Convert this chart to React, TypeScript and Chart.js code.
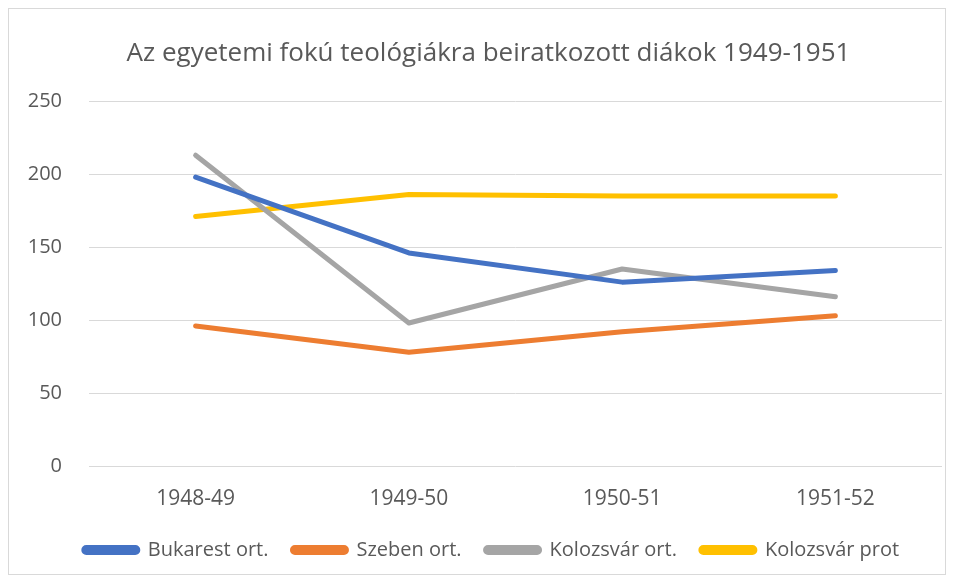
import React, { useEffect, useRef } from "react";
import { Chart, registerables } from "chart.js";

Chart.register(...registerables);

const categories = ["1948-49", "1949-50", "1950-51", "1951-52"];
const bukarest = [198, 146, 126, 134];
const szeben = [96, 78, 92, 103];
const kolozsvarOrt = [213, 98, 135, 116];
const kolozsvarProt = [171, 186, 185, 185];
const seriesNames = ["Bukarest ort.", "Szeben ort.", "Kolozsvár ort.", "Kolozsvár prot"];
const seriesColors = ["#4472C4", "#ED7D31", "#A5A5A5", "#FFC000"];
const titleText = "Az egyetemi fokú teológiákra beiratkozott diákok 1949-1951";

const FONT = "'Open Sans', 'Noto Sans', sans-serif";
const TEXT = "#595959";

// Shift title and legend slightly right, as in the reference layout
const shiftPlugin = {
  id: "shiftBoxes",
  afterLayout(chart: any) {
    if (chart.titleBlock) {
      chart.titleBlock.left += 13;
      chart.titleBlock.right += 13;
    }
    if (chart.legend) {
      chart.legend.left += 16;
      chart.legend.right += 16;
    }
  },
};

export default function App() {
  const ref = useRef<HTMLCanvasElement | null>(null);
  useEffect(() => {
    if (!ref.current) return;
    const values = [bukarest, szeben, kolozsvarOrt, kolozsvarProt];
    const chart = new Chart(ref.current, {
      type: "line",
      data: {
        labels: categories,
        datasets: values.map((v, i) => ({
          label: seriesNames[i],
          data: v,
          borderColor: seriesColors[i],
          backgroundColor: seriesColors[i],
          borderWidth: 5,
          borderCapStyle: "round" as const,
          borderJoinStyle: "round" as const,
          pointRadius: 0,
          tension: 0,
        })),
      },
      options: {
        animation: false,
        responsive: false,
        maintainAspectRatio: false,
        layout: { padding: { top: 0, left: 0, right: 3, bottom: 4 } },
        plugins: {
          title: {
            display: true,
            text: titleText,
            color: TEXT,
            font: { family: FONT, size: 26, weight: "normal" },
            padding: { top: 29, bottom: 32 },
          },
          legend: {
            position: "bottom",
            labels: {
              color: TEXT,
              font: { family: FONT, size: 20 },
              boxWidth: 54,
              boxHeight: 5,
              useBorderRadius: true,
              borderRadius: 2.5,
              padding: 24,
            },
          },
          tooltip: { enabled: false },
        },
        scales: {
          x: {
            offset: true,
            grid: { display: false, drawTicks: false },
            border: { display: false },
            ticks: { color: TEXT, font: { family: FONT, size: 21 }, padding: 20 },
            afterFit: (scale: any) => {
              scale.height = 50;
            },
          },
          y: {
            min: 0,
            max: 250,
            ticks: { stepSize: 50, color: TEXT, font: { family: FONT, size: 20 }, padding: 27 },
            grid: { color: "#d9d9d9", lineWidth: 1, drawTicks: false },
            border: { display: false },
            afterFit: (scale: any) => {
              scale.width = 80;
            },
          },
        },
      },
      plugins: [shiftPlugin],
    } as any);
    return () => chart.destroy();
  }, []);
  return (
    <div style={{ width: 936, height: 565, border: "1px solid #d9d9d9", background: "#fff" }}>
      <canvas ref={ref} width={936} height={565} style={{ display: "block" }} />
    </div>
  );
}
